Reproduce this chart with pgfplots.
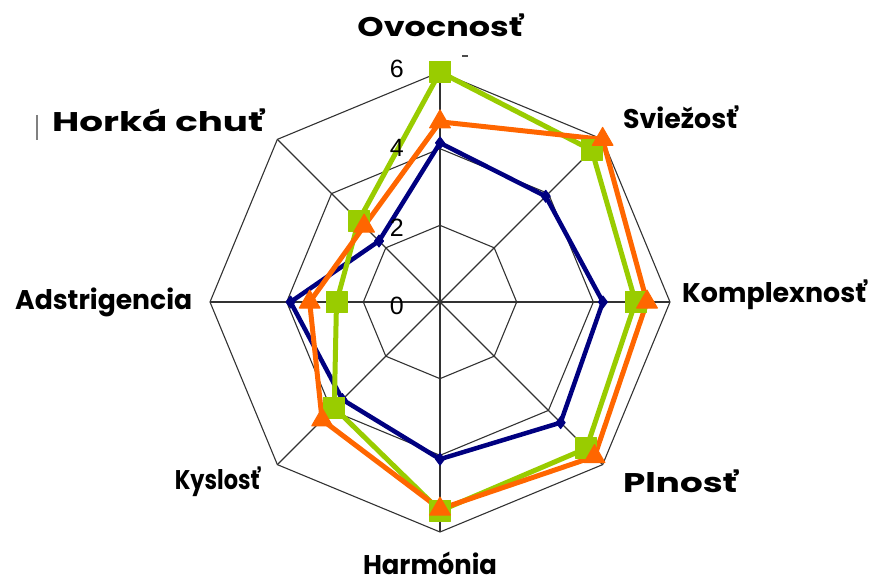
\documentclass[border=0pt]{standalone}
\usepackage{fontspec}
\setmainfont{Liberation Sans}
\newfontfamily\catfont{Poppins}
\usepackage{graphicx}
\usepackage{pgfplots}
\pgfplotsset{compat=1.18}
\usepgfplotslibrary{polar}
\usetikzlibrary{calc}
\definecolor{navyS}{RGB}{0,0,128}
\definecolor{greenS}{RGB}{153,204,0}
\definecolor{orangeS}{RGB}{255,102,0}
\definecolor{gridc}{RGB}{50,50,50}
\newcommand{\catw}[2]{\resizebox{#1bp}{\height}{#2}}
\begin{document}
\begin{tikzpicture}
\begin{polaraxis}[
  name=ax, hide axis, clip=false, scale only axis,
  width=460bp, height=460bp,
  ymin=0, ymax=6, xmin=0, xmax=360,
  gridline/.style={gridc, line width=1.1bp, mark=none},
]
% ring octagons at 2, 4, 6
\addplot[gridline] coordinates {(90,2)(45,2)(0,2)(315,2)(270,2)(225,2)(180,2)(135,2)(90,2)};
\addplot[gridline] coordinates {(90,4)(45,4)(0,4)(315,4)(270,4)(225,4)(180,4)(135,4)(90,4)};
\addplot[gridline] coordinates {(90,6)(45,6)(0,6)(315,6)(270,6)(225,6)(180,6)(135,6)(90,6)};
% spokes
\addplot[gridline] coordinates {(90,0)(90,6)};
\addplot[gridline] coordinates {(45,0)(45,6)};
\addplot[gridline] coordinates {(0,0)(0,6)};
\addplot[gridline] coordinates {(315,0)(315,6)};
\addplot[gridline] coordinates {(270,0)(270,6)};
\addplot[gridline] coordinates {(225,0)(225,6)};
\addplot[gridline] coordinates {(180,0)(180,6)};
\addplot[gridline] coordinates {(135,0)(135,6)};
% series (Ovocnost, Sviezost, Komplexnost, Plnost, Harmonia, Kyslost, Adstrigencia, Horka chut)
\addplot[navyS, line width=4.5bp, line join=round, mark=diamond*, mark size=6bp,
  mark options={solid, line width=1bp}, mark indices={1,2,3,4,5,6,7,8}]
  coordinates {(90,4.15)(45,3.9)(0,4.25)(315,4.45)(270,4.1)(225,3.6)(180,3.9)(135,2.25)(90,4.15)};
\addplot[greenS, line width=5bp, line join=round, mark=square*, mark size=10.5bp,
  mark options={solid, line width=1bp}, mark indices={1,2,3,4,5,6,7,8}]
  coordinates {(90,6.0)(45,5.6)(0,5.1)(315,5.4)(270,5.45)(225,3.9)(180,2.7)(135,3.0)(90,6.0)};
\addplot[orangeS, line width=5bp, line join=round, mark=triangle*, mark size=12bp,
  mark options={solid, line width=1bp}, mark indices={1,2,3,4,5,6,7,8}]
  coordinates {(90,4.7)(45,6.0)(0,5.4)(315,5.7)(270,5.4)(225,4.35)(180,3.4)(135,2.8)(90,4.7)};
\coordinate (c) at (axis cs:0,0);
\end{polaraxis}
\begin{scope}[shift={($(c)+(-440bp,302bp)$)}, x=1bp, y=-1bp]
\useasboundingbox (0,0) rectangle (869,583);
\tikzset{cat/.style={inner sep=0pt, font=\catfont\bfseries\fontsize{27bp}{32bp}\selectfont},
         tk/.style={inner sep=0pt, anchor=base east, font=\fontsize{25bp}{30bp}\selectfont}}
\node[cat, anchor=base] at (440,37) {\catw{165}{Ovocnosť}};
\node[cat, anchor=base west] at (623,129) {\catw{114}{Sviežosť}};
\node[cat, anchor=base west] at (682,303) {\catw{184}{Komplexnosť}};
\node[cat, anchor=base west] at (623,493) {\catw{114}{Plnosť}};
\node[cat, anchor=base] at (430,575) {\catw{134}{Harmónia}};
\node[cat, anchor=base east] at (260,490) {\catw{85}{Kyslosť}};
\node[cat, anchor=base west] at (15,310) {\catw{177}{Adstrigencia}};
\node[cat, anchor=base west] at (52,132) {\catw{211}{Horká chuť}};
\node[tk] at (404,78) {6};
\node[tk] at (404,157) {4};
\node[tk] at (404,237) {2};
\node[tk] at (404,315) {0};
\draw[gray, line width=1.5bp] (37,115) -- (37,140);
\draw[black!70, line width=1.5bp] (462,56) -- (468,56);
\end{scope}
\end{tikzpicture}
\end{document}
